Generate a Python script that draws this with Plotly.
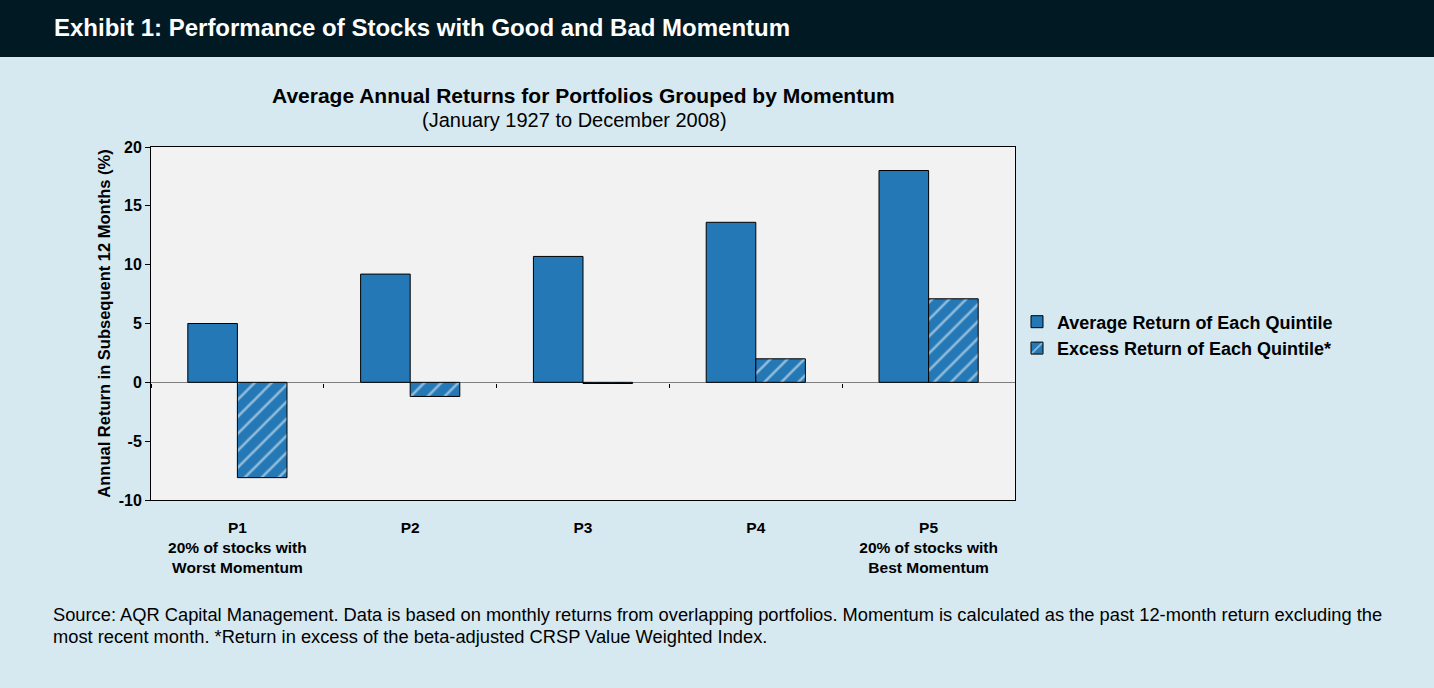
import plotly.graph_objects as go

CATEGORIES = ['P1<br>20% of stocks with<br>Worst Momentum', 'P2', 'P3', 'P4',
              'P5<br>20% of stocks with<br>Best Momentum']
AVG_RETURN = [5.0, 9.2, 10.7, 13.6, 18.0]
EXCESS_RETURN = [-8.1, -1.2, -0.1, 2.0, 7.1]
SERIES_NAMES = ['Average Return of Each Quintile', 'Excess Return of Each Quintile*']

Y_TICKS = [-10, -5, 0, 5, 10, 15, 20]
Y_TICK_TEXT = ['-10', '-5', '0', '5', '10', '15', '20']

HEADER = 'Exhibit 1: Performance of Stocks with Good and Bad Momentum'
TITLE = 'Average Annual Returns for Portfolios Grouped by Momentum'
SUBTITLE = '(January 1927 to December 2008)'
YTITLE = 'Annual Return in Subsequent 12 Months (%)'
FOOTER = ['Source: AQR Capital Management. Data is based on monthly returns from overlapping '
          'portfolios. Momentum is calculated as the past 12-month return excluding the',
          'most recent month. *Return in excess of the beta-adjusted CRSP Value Weighted Index.']

W, H = 1434, 688
L, R, T, B = 151, 1015, 147, 500   # plot area in pixels
FONT = 'Liberation Sans, Arial, sans-serif'
BLUE = '#2378b5'


def px(x):
    return (x - L) / (R - L)


def py(y):
    return (B - y) / (B - T)


fig = go.Figure()
fig.add_trace(go.Bar(x=CATEGORIES, y=AVG_RETURN, name=SERIES_NAMES[0],
                     marker=dict(color=BLUE, line=dict(color='black', width=1))))
fig.add_trace(go.Bar(x=CATEGORIES, y=EXCESS_RETURN, name=SERIES_NAMES[1],
                     marker=dict(color=BLUE, line=dict(color='black', width=1),
                                 pattern=dict(shape='/', fgcolor='white', bgcolor=BLUE,
                                              size=12, solidity=0.22))))
# helper trace so the tick axis on the zero line gets drawn
fig.add_trace(go.Scatter(x=CATEGORIES, y=AVG_RETURN, xaxis='x2', mode='markers',
                         marker=dict(opacity=0), showlegend=False, hoverinfo='skip'))

fig.update_layout(
    width=W, height=H,
    margin=dict(l=L, r=W - R, t=T, b=H - B),
    paper_bgcolor='#d6e9f1', plot_bgcolor='#f2f2f2',
    font=dict(family=FONT, color='black'),
    barmode='group', bargap=0.426, bargroupgap=0,
    showlegend=True,
    legend=dict(x=px(1017), y=py(335), xanchor='left', yanchor='middle',
                bgcolor='rgba(0,0,0,0)', font=dict(size=18, weight='bold'),
                itemwidth=30, tracegroupgap=0),
    xaxis=dict(type='category', showline=True, linecolor='black', linewidth=1, mirror=True,
               showgrid=False, ticks='outside', ticklen=13, tickcolor='rgba(0,0,0,0)',
               tickfont=dict(size=15.5, weight='bold')),
    xaxis2=dict(type='category', overlaying='x', matches='x', anchor='free', position=py(383),
                showline=False, showgrid=False, showticklabels=False, tickson='boundaries',
                ticks='outside', ticklen=4, tickcolor='black'),
    yaxis=dict(range=[-10, 20], tickvals=Y_TICKS, ticktext=Y_TICK_TEXT,
               showline=True, linecolor='black', linewidth=1,
               mirror=True, showgrid=False, ticks='outside', ticklen=5, tickcolor='black',
               tickfont=dict(size=16, weight='bold'),
               zeroline=True, zerolinecolor='#7f7f7f', zerolinewidth=1,
               title=dict(text=YTITLE, font=dict(size=16.5, weight='bold'), standoff=3)),
    shapes=[dict(type='rect', xref='paper', yref='paper', x0=px(0), x1=px(W),
                 y0=py(57), y1=py(0), fillcolor='#011923', line=dict(width=0), layer='below')],
    annotations=[
        dict(text='<b>' + HEADER + '</b>', xref='paper', yref='paper', x=px(52), y=py(28),
             xanchor='left', yanchor='middle', showarrow=False,
             font=dict(size=24, color='white')),
        dict(text='<b>' + TITLE + '</b>', xref='paper', yref='paper', x=0.5, y=py(95),
             xanchor='center', yanchor='middle', showarrow=False, font=dict(size=21)),
        dict(text=SUBTITLE, xref='paper', yref='paper', x=px(574), y=py(120),
             xanchor='center', yanchor='middle', showarrow=False, font=dict(size=20)),
        dict(text=FOOTER[0], xref='paper', yref='paper', x=px(51), y=py(614),
             xanchor='left', yanchor='middle', showarrow=False, font=dict(size=18.3)),
        dict(text=FOOTER[1], xref='paper', yref='paper', x=px(51), y=py(636),
             xanchor='left', yanchor='middle', showarrow=False, font=dict(size=18.3)),
    ],
)

fig.write_html('out.html', config={'displayModeBar': False},
               post_script="document.body.style.margin='0';")
